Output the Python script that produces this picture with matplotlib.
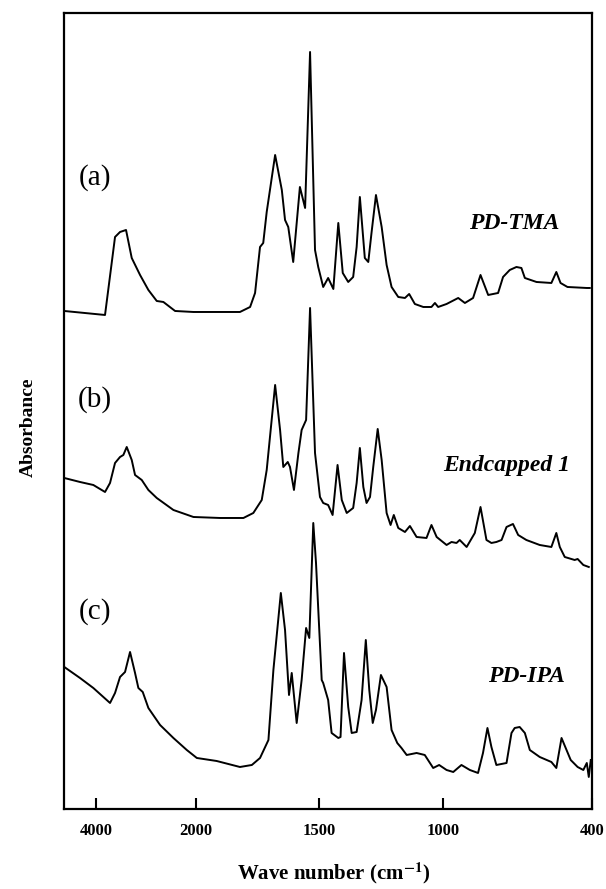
"""Stacked FTIR spectra: PD-TMA, Endcapped 1, PD-IPA (broken wavenumber axis)."""

import numpy as np
import matplotlib

matplotlib.use("Agg")
import matplotlib.pyplot as plt

plt.rcParams["font.family"] = ["Liberation Serif", "DejaVu Serif"]
plt.rcParams["mathtext.fontset"] = "stix"

# --- data (wavenumber cm-1, absorbance a.u., stacked) -----------------------
wn_a = [4650, 3828, 3626, 3525, 3404, 3289, 3121, 2953, 2784, 2650, 2414, 2044,
        1821, 1780, 1760, 1740, 1727, 1713, 1679, 1652, 1639, 1626, 1606, 1579,
        1558, 1538, 1518, 1505, 1485, 1465, 1444, 1424, 1406, 1384, 1364, 1350,
        1337, 1317, 1303, 1290, 1272, 1249, 1229, 1209, 1182, 1155, 1138, 1115,
        1081, 1048, 1034, 1021, 987, 940, 913, 880, 850, 819, 779, 759, 732,
        705, 685, 671, 624, 564, 544, 527, 499, 421, 409]
abs_a = [4.98, 4.94, 5.72, 5.77, 5.79, 5.51, 5.34, 5.19, 5.08, 5.07, 4.98, 4.97,
         4.97, 5.02, 5.16, 5.62, 5.66, 5.97, 6.54, 6.19, 5.89, 5.82, 5.47, 6.22,
         6.01, 7.57, 5.59, 5.42, 5.22, 5.31, 5.20, 5.86, 5.36, 5.27, 5.32, 5.62,
         6.12, 5.51, 5.47, 5.76, 6.14, 5.82, 5.44, 5.22, 5.12, 5.11, 5.15, 5.05,
         5.02, 5.02, 5.06, 5.02, 5.05, 5.11, 5.06, 5.11, 5.34, 5.14, 5.16, 5.32,
         5.39, 5.42, 5.41, 5.31, 5.27, 5.26, 5.37, 5.26, 5.22, 5.21, 5.21]

wn_b = [4650, 4333, 4064, 3828, 3727, 3626, 3525, 3458, 3390, 3289, 3222, 3087,
        2953, 2784, 2448, 2044, 1901, 1807, 1767, 1733, 1713, 1679, 1659, 1646,
        1628, 1619, 1603, 1585, 1572, 1554, 1538, 1518, 1498, 1485, 1465, 1447,
        1427, 1410, 1390, 1364, 1350, 1337, 1323, 1310, 1296, 1283, 1265, 1249,
        1229, 1213, 1200, 1182, 1155, 1135, 1108, 1068, 1048, 1027, 987, 967,
        947, 934, 906, 873, 850, 826, 806, 786, 765, 745, 719, 698, 665, 611,
        564, 544, 530, 510, 470, 458, 435, 413]
abs_b = [3.31, 3.27, 3.24, 3.17, 3.26, 3.46, 3.52, 3.54, 3.62, 3.49, 3.34, 3.29,
         3.19, 3.11, 2.99, 2.92, 2.91, 2.91, 2.96, 3.09, 3.39, 4.24, 3.79, 3.42,
         3.47, 3.42, 3.19, 3.56, 3.79, 3.89, 5.01, 3.56, 3.12, 3.06, 3.04, 2.94,
         3.44, 3.09, 2.96, 3.01, 3.26, 3.61, 3.22, 3.06, 3.12, 3.42, 3.80, 3.49,
         2.96, 2.84, 2.94, 2.81, 2.77, 2.83, 2.72, 2.71, 2.84, 2.72, 2.64, 2.67,
         2.66, 2.69, 2.62, 2.76, 3.02, 2.69, 2.66, 2.67, 2.69, 2.82, 2.85, 2.74,
         2.69, 2.64, 2.62, 2.76, 2.62, 2.52, 2.49, 2.50, 2.44, 2.42]

wn_c = [4650, 4333, 4064, 3727, 3626, 3525, 3424, 3323, 3222, 3155, 3067, 2953,
        2717, 2448, 2178, 1995, 1915, 1821, 1773, 1740, 1706, 1686, 1656, 1639,
        1623, 1612, 1592, 1572, 1554, 1541, 1525, 1514, 1491, 1485, 1465, 1451,
        1424, 1415, 1401, 1384, 1370, 1350, 1330, 1313, 1299, 1285, 1272, 1252,
        1229, 1209, 1186, 1169, 1148, 1108, 1075, 1041, 1017, 987, 960, 927,
        893, 860, 840, 822, 806, 786, 745, 725, 712, 692, 671, 651, 611, 564,
        544, 523, 486, 458, 435, 421, 413, 405]
abs_c = [1.42, 1.31, 1.21, 1.06, 1.16, 1.32, 1.37, 1.57, 1.36, 1.21, 1.17, 1.01,
         0.84, 0.71, 0.59, 0.51, 0.48, 0.42, 0.44, 0.51, 0.69, 1.39, 2.16, 1.79,
         1.14, 1.36, 0.86, 1.29, 1.81, 1.71, 2.86, 2.46, 1.29, 1.26, 1.09, 0.76,
         0.71, 0.72, 1.56, 1.02, 0.76, 0.77, 1.09, 1.69, 1.19, 0.86, 0.99, 1.34,
         1.22, 0.79, 0.66, 0.61, 0.54, 0.56, 0.54, 0.41, 0.44, 0.39, 0.37, 0.44,
         0.39, 0.36, 0.56, 0.81, 0.62, 0.44, 0.46, 0.76, 0.81, 0.82, 0.76, 0.59,
         0.52, 0.47, 0.41, 0.71, 0.49, 0.42, 0.39, 0.46, 0.32, 0.49]

tick_values = [4000, 2000, 1500, 1000, 400]
tick_labels = ["4000", "2000", "1500", "1000", "400"]


# above 2000 cm-1 the axis is compressed 5x
def _fwd(w):
    w = np.asarray(w, dtype=float)
    return np.where(w > 2000, 2000 + (w - 2000) / 5.0, w)


def _inv(p):
    p = np.asarray(p, dtype=float)
    return np.where(p > 2000, 2000 + (p - 2000) * 5.0, p)


fig = plt.figure(figsize=(6.06, 8.89), dpi=100)
ax = fig.add_axes([0.1056, 0.09, 0.8713, 0.8954])

for wn, ab in [(wn_a, abs_a), (wn_b, abs_b), (wn_c, abs_c)]:
    ax.plot(wn, ab, color="black", lw=1.4)

ax.set_xscale("function", functions=(_fwd, _inv))
ax.set_xlim(4656, 400)
ax.set_ylim(0, 7.96)

ax.set_xticks(tick_values)
ax.set_xticklabels(tick_labels, fontweight="bold", fontsize=12)
ax.minorticks_off()
ax.tick_params(axis="x", direction="in", length=8, width=1.5, pad=10)
ax.set_yticks([])
for sp in ax.spines.values():
    sp.set_linewidth(1.6)

# panel tags and sample names
for tag, yy in [("(a)", 0.793), ("(b)", 0.514), ("(c)", 0.2475)]:
    ax.text(0.0587, yy, tag, transform=ax.transAxes, fontsize=21,
            ha="center", va="center")
for name, xx, yy in [("PD-TMA", 0.852, 0.735),
                     ("Endcapped 1", 0.839, 0.432),
                     ("PD-IPA", 0.875, 0.167)]:
    ax.text(xx, yy, name, transform=ax.transAxes, fontsize=17,
            fontstyle="italic", fontweight="bold", ha="center", va="center")

fig.text(334 / 606, 1 - 873 / 889, r"Wave number (cm$^{\mathbf{-1}}$)",
         fontsize=15, fontweight="bold", ha="center", va="center")
fig.text(28 / 606, 1 - 427 / 889, "Absorbance", fontsize=14,
         fontweight="bold", rotation=90, ha="center", va="center")

fig.savefig("out.png", dpi=100)
plt.close(fig)
